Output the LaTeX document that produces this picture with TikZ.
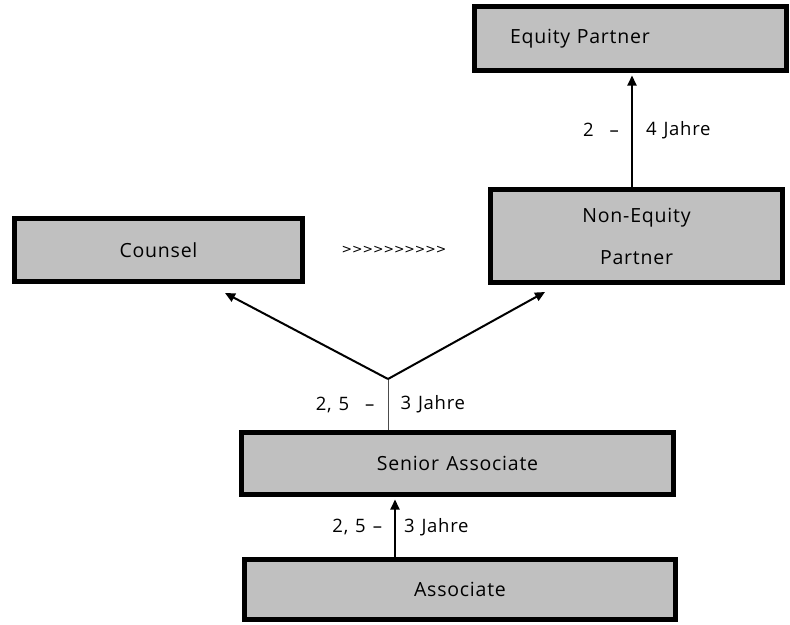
\documentclass[tikz,border=0pt]{standalone}
\usepackage{fontspec}
\setmainfont{Open Sans}
\newfontfamily\trackfont[LetterSpace=4,WordSpace=1.25]{Open Sans}
\newfontfamily\chevfont{DejaVu Sans}
\usepackage{tikz}
\usetikzlibrary{arrows.meta}
\definecolor{boxgray}{RGB}{192,192,192}

\begin{document}
\begin{tikzpicture}[x=1pt,y=-1pt]
		\useasboundingbox (0,0) rectangle (790,624);

		\begin{scope}[every node/.style={rectangle,draw=black,line width=5pt,fill=boxgray,
		              font=\trackfont\fontsize{19.5}{22}\selectfont,inner sep=0pt}]
		    \node[minimum height=64pt,text width=241pt,inner xsep=35.5pt,align=left] (ep) at (630.5,38.5) {Equity Partner};
		    \node[minimum width=292pt,minimum height=93pt,align=center] (ne) at (636.5,236) {Non-Equity\\[20pt]Partner};
		    \node[minimum width=288pt,minimum height=63pt] (counsel) at (158.5,250) {Counsel};
		    \node[minimum width=432pt,minimum height=62pt] (senior) at (457.5,463.5) {Senior Associate};
		    \node[minimum width=431pt,minimum height=60pt] (assoc) at (460,589.5) {Associate};
		\end{scope}

		\node[font=\chevfont\fontsize{12.5}{14}\selectfont] (more) at (394,250) {>>>>>>>>>>};

		\coordinate (j) at (388,379);
		\coordinate (ctip) at (225,293);
		\coordinate (ntip) at (545,292);

		\begin{scope}[>={Triangle[length=10pt,width=9pt]},
		              every node/.style={font=\trackfont\fontsize{18.5}{22}\selectfont,inner ysep=0pt},
		              every edge/.style={draw=black,line width=2pt}]
		    \path [->,shorten >=2.5pt] ([xshift=-4.5pt]ne.north) edge
		        node[left,inner xsep=12pt] {2\hspace{16pt}–}
		        node[right,inner xsep=13pt] {4 Jahre}
		        ([xshift=-4.5pt]ne.north |- ep.south);
		    \path [->,shorten >=2.5pt] ([xshift=-65pt]assoc.north) edge
		        node[left,inner xsep=12pt] {2, 5 –}
		        node[right,inner xsep=8pt] {3 Jahre}
		        ([xshift=-65pt]assoc.north |- senior.south);
		    \path [-] ([xshift=-69.5pt]senior.north) edge[line width=1pt,draw=black!70]
		        node[left,inner xsep=13pt] {2, 5\hspace{16pt}–}
		        node[right,inner xsep=12pt] {3 Jahre}
		        (j);
		    \path [->] (j) edge (ctip);
		    \path [->] (j) edge (ntip);
		\end{scope}
\end{tikzpicture}
\end{document}
